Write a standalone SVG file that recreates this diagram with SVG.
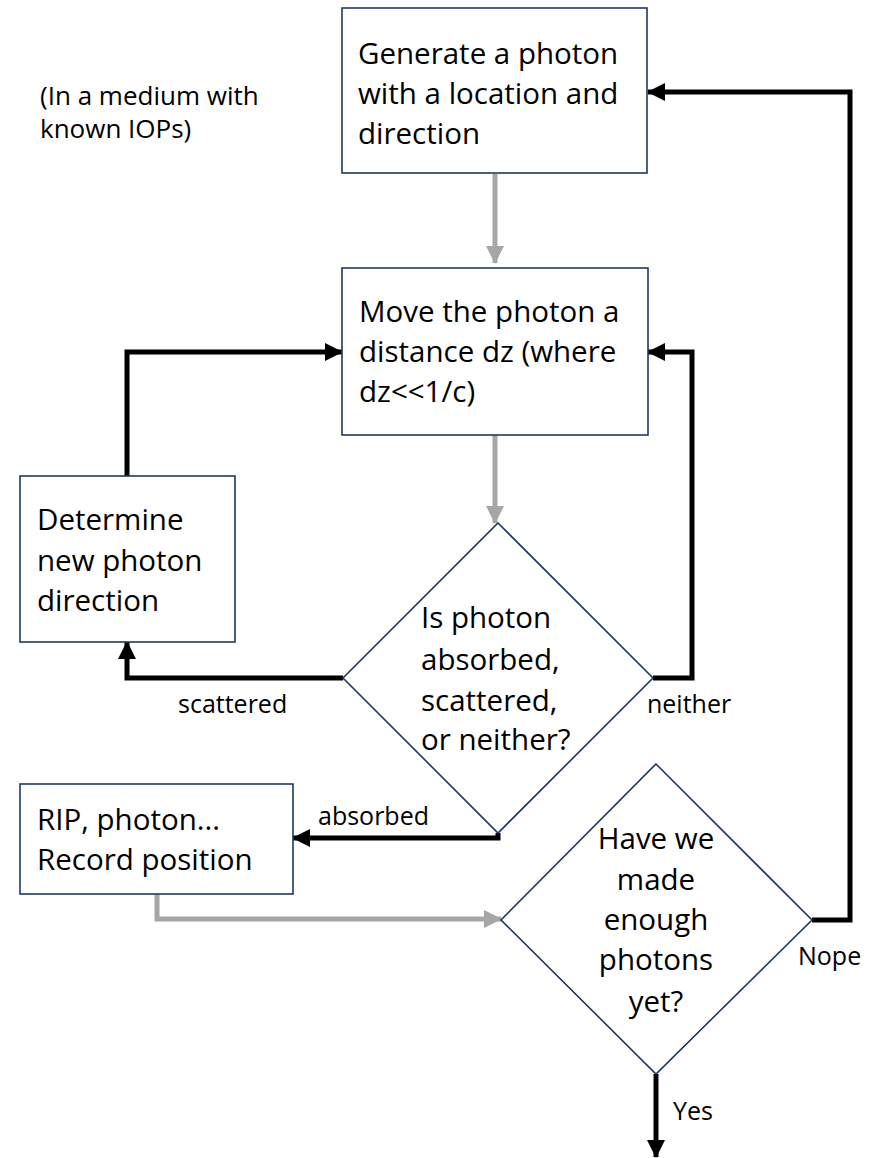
<svg xmlns="http://www.w3.org/2000/svg" width="884" height="1158" viewBox="0 0 884 1158">
<style>
.box{fill:#fff;stroke:#1F3864;stroke-width:1.6}
.t{font-family:"Open Sans","Liberation Sans",sans-serif;font-size:29.5px;fill:#000}
.lbl{font-family:"Open Sans","Liberation Sans",sans-serif;font-size:25px;fill:#000}
.note{font-family:"Open Sans","Liberation Sans",sans-serif;font-size:26px;fill:#000}
.blk{fill:none;stroke:#000;stroke-width:5}
.gry{fill:none;stroke:#A6A6A6;stroke-width:5}
</style>
<defs>
<marker id="ab" markerUnits="userSpaceOnUse" markerWidth="18" markerHeight="18" refX="17" refY="9" orient="auto"><path d="M0,0 L18,9 L0,18 Z" fill="#000"/></marker>
<marker id="ag" markerUnits="userSpaceOnUse" markerWidth="18" markerHeight="18" refX="17" refY="9" orient="auto"><path d="M0,0 L18,9 L0,18 Z" fill="#A6A6A6"/></marker>
</defs>
<rect width="884" height="1158" fill="#fff"/>
<g id="connectors">
<path class="gry" d="M495,174 V263" marker-end="url(#ag)"/>
<path class="gry" d="M495,435 V523" marker-end="url(#ag)"/>
<path class="blk" d="M653,678 H692 V352 H648" marker-end="url(#ab)"/>
<path class="blk" d="M343,678 H127 V642" marker-end="url(#ab)"/>
<path class="blk" d="M127,476 V352 H342" marker-end="url(#ab)"/>
<path class="blk" d="M498,833 V838 H293" marker-end="url(#ab)"/>
<path class="gry" d="M157,894 V919 H501" marker-end="url(#ag)"/>
<path class="blk" d="M812,920 H850 V92 H648" marker-end="url(#ab)"/>
<path class="blk" d="M656,1074 V1157" marker-end="url(#ab)"/>
<text class="lbl" x="178" y="713">scattered</text>
<text class="lbl" x="647" y="713">neither</text>
<text class="lbl" x="318" y="825">absorbed</text>
<text class="lbl" x="798" y="965">Nope</text>
<text class="lbl" x="673" y="1120">Yes</text>
</g>
<g id="note">
<text class="note" x="40" y="105">(In a medium with</text>
<text class="note" x="40" y="138">known IOPs)</text>
</g>
<g id="generate">
<rect class="box" x="342" y="8" width="305" height="165"/>
<text class="t" x="358" y="64">Generate a photon</text>
<text class="t" x="358" y="104">with a location and</text>
<text class="t" x="358" y="144">direction</text>
</g>
<g id="move">
<rect class="box" x="342" y="268" width="306" height="167"/>
<text class="t" x="359" y="322">Move the photon a</text>
<text class="t" x="359" y="362">distance dz (where</text>
<text class="t" x="359" y="402">dz&lt;&lt;1/c)</text>
</g>
<g id="determine">
<rect class="box" x="20" y="476" width="215" height="166"/>
<text class="t" x="37" y="530">Determine</text>
<text class="t" x="37" y="571">new photon</text>
<text class="t" x="37" y="611">direction</text>
</g>
<g id="decision1">
<path class="box" d="M498,523 L653,678 L498,833 L343,678 Z"/>
<text class="t" x="421" y="628">Is photon</text>
<text class="t" x="421" y="670">absorbed,</text>
<text class="t" x="421" y="711">scattered,</text>
<text class="t" x="421" y="750">or neither?</text>
</g>
<g id="rip">
<rect class="box" x="20" y="784" width="273" height="110"/>
<text class="t" x="37" y="830">RIP, photon...</text>
<text class="t" x="37" y="870">Record position</text>
</g>
<g id="decision2">
<path class="box" d="M656,764 L812,920 L656,1074 L501,920 Z"/>
<g class="t" text-anchor="middle">
<text x="656" y="849">Have we</text>
<text x="656" y="890">made</text>
<text x="656" y="930">enough</text>
<text x="656" y="970">photons</text>
<text x="656" y="1012">yet?</text>
</g>
</g>
</svg>
